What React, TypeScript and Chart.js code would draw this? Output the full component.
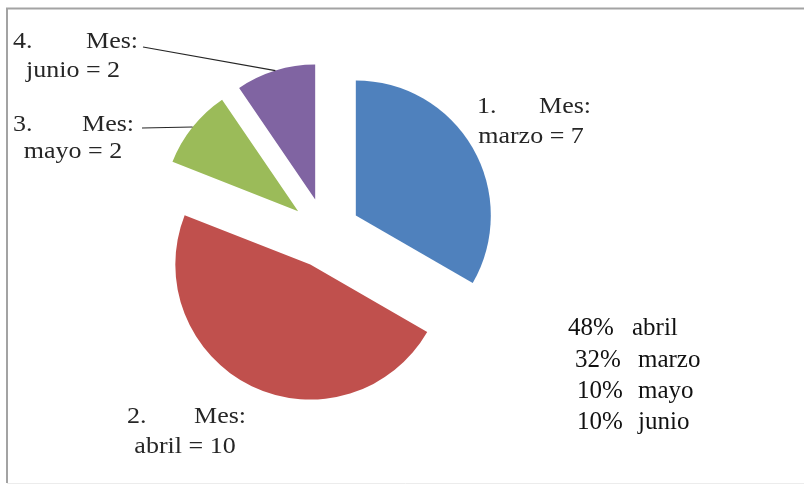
import React, { useEffect, useRef } from "react";
import { Chart, registerables } from "chart.js";

Chart.register(...registerables);

// ---- data ----
const categories = ["marzo", "abril", "mayo", "junio"];
const values = [7, 10, 2, 2];
const labelNumbers = ["1.", "2.", "3.", "4."];
const summaryPercents = ["48%", "32%", "10%", "10%"];
const summaryNames = ["abril", "marzo", "mayo", "junio"];

// ---- styles / layout ----
const colors = ["#4F81BD", "#C0504D", "#9BBB59", "#8064A2"];
const EXPLODE = 35;
const RADIUS = 135;
const W = 804;
const H = 487;
const LABEL_STRETCH = 1.13;

// label layout per slice: number x, "Mes:" right edge, line1 baseline, line2 centre x, line2 baseline, leader start
const labelLayout = [
  { numX: 477, mesR: 591, y1: 113, cx2: 531, y2: 143, leader: null as null | [number, number] },
  { numX: 127, mesR: 246, y1: 423, cx2: 185, y2: 453, leader: null as null | [number, number] },
  { numX: 13, mesR: 134, y1: 131, cx2: 73, y2: 158, leader: [142, 128] as [number, number] },
  { numX: 13, mesR: 138, y1: 48, cx2: 73, y2: 77, leader: [143, 47] as [number, number] },
];
const summaryLayout = {
  pctX: [568, 575, 577, 577],
  nameX: [632, 638, 638, 638],
  y: [335, 367, 398, 429],
};

const explodePlugin = {
  id: "explode",
  afterDatasetsUpdate(chart: any) {
    const meta = chart.getDatasetMeta(0);
    meta.data.forEach((el: any) => {
      const mid = (el.startAngle + el.endAngle) / 2;
      el.x += Math.cos(mid) * EXPLODE;
      el.y += Math.sin(mid) * EXPLODE;
    });
  },
};

const framePlugin = {
  id: "frame",
  beforeDraw(chart: any) {
    const ctx = chart.ctx;
    ctx.save();
    ctx.fillStyle = "#ffffff";
    ctx.fillRect(0, 0, W, H);
    ctx.strokeStyle = "#a3a3a3";
    ctx.lineWidth = 2;
    ctx.beginPath();
    ctx.moveTo(W, 8.5);
    ctx.lineTo(7, 8.5);
    ctx.lineTo(7, 483);
    ctx.stroke();
    ctx.strokeStyle = "#ececec";
    ctx.lineWidth = 1;
    ctx.beginPath();
    ctx.moveTo(7, 483.5);
    ctx.lineTo(W, 483.5);
    ctx.stroke();
    ctx.restore();
  },
};

function stretchedText(ctx: any, text: string, x: number, y: number, align: string) {
  ctx.save();
  ctx.translate(x, y);
  ctx.scale(LABEL_STRETCH, 1);
  ctx.textAlign = align;
  ctx.fillText(text, 0, 0);
  ctx.restore();
}

const labelPlugin = {
  id: "sliceLabels",
  afterDatasetsDraw(chart: any) {
    const ctx = chart.ctx;
    const meta = chart.getDatasetMeta(0);
    ctx.save();
    ctx.fillStyle = "#262626";
    ctx.strokeStyle = "#262626";
    ctx.textBaseline = "alphabetic";
    ctx.font = '23px "Liberation Serif", serif';
    meta.data.forEach((el: any, i: number) => {
      const L = labelLayout[i];
      stretchedText(ctx, labelNumbers[i], L.numX, L.y1, "left");
      stretchedText(ctx, "Mes:", L.mesR, L.y1, "right");
      stretchedText(ctx, `${categories[i]} = ${values[i]}`, L.cx2, L.y2, "center");
      if (L.leader) {
        const mid = (el.startAngle + el.endAngle) / 2;
        const ex = el.x + Math.cos(mid) * el.outerRadius;
        const ey = el.y + Math.sin(mid) * el.outerRadius;
        ctx.lineWidth = 1.2;
        ctx.beginPath();
        ctx.moveTo(L.leader[0], L.leader[1]);
        ctx.lineTo(ex, ey);
        ctx.stroke();
      }
    });
    // summary block
    ctx.fillStyle = "#111111";
    ctx.font = '25px "Liberation Serif", serif';
    ctx.textAlign = "left";
    summaryPercents.forEach((p, i) => {
      ctx.fillText(p, summaryLayout.pctX[i], summaryLayout.y[i]);
      ctx.fillText(summaryNames[i], summaryLayout.nameX[i], summaryLayout.y[i]);
    });
    ctx.restore();
  },
};

export default function App() {
  const ref = useRef<HTMLCanvasElement | null>(null);
  useEffect(() => {
    if (!ref.current) return;
    const chart = new Chart(ref.current, {
      type: "pie",
      data: {
        labels: categories,
        datasets: [
          {
            data: values,
            backgroundColor: colors,
            borderWidth: 0,
          },
        ],
      },
      options: {
        responsive: false,
        animation: false,
        radius: RADIUS,
        layout: { padding: { left: 0, right: 153, top: 0, bottom: 21 } },
        plugins: {
          legend: { display: false },
          tooltip: { enabled: false },
        },
        events: [],
      } as any,
      plugins: [framePlugin, explodePlugin, labelPlugin],
    });
    return () => chart.destroy();
  }, []);
  return (
    <div style={{ position: "fixed", left: 0, top: 0, width: W, height: H, background: "#fff" }}>
      <canvas ref={ref} width={W} height={H} style={{ width: W, height: H, display: "block" }} />
    </div>
  );
}
